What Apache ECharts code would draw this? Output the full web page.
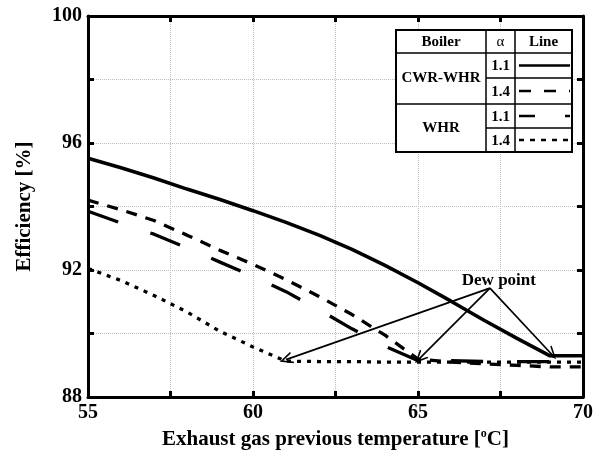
<!DOCTYPE html>
<html>
<head>
<meta charset="utf-8">
<script src="https://cdn.jsdelivr.net/npm/echarts@6/dist/echarts.min.js"></script>
<style>
html,body{margin:0;padding:0;background:#fff;}
#chart{width:598px;height:457px;}
</style>
</head>
<body>
<div id="chart"></div>
<script>
// ---- data ----
var temps = [55,56,57,58,59,60,61,62,63,64,65,66,67,68,69,70];
var cwrWhr11 = [95.52,95.22,94.9,94.55,94.22,93.87,93.5,93.1,92.65,92.15,91.6,91.02,90.42,89.85,89.3,89.3];
var cwrWhr14 = [94.2,93.9,93.56,93.1,92.62,92.18,91.7,91.17,90.6,89.95,89.2,89.1,89.05,89.0,88.95,88.95];
var whr11    = [93.85,93.48,93.13,92.7,92.25,91.8,91.32,90.75,90.15,89.6,89.15,89.15,89.12,89.12,89.12,89.12];
var whr14    = [92.05,91.67,91.2,90.68,90.07,89.58,89.13,89.12,89.12,89.1,89.1,89.1,89.1,89.1,89.1,89.1];
var xTicks = [55,60,65,70];
var yTicks = [88,92,96,100];
var dewLabel = 'Dew point';
var dewOrigin = [67.18, 91.43];
var dewTargets = [[61.0, 89.18],[65.05, 89.22],[69.05, 89.35]];
var dewTextPos = [67.45, 91.68];
var legendRows = [['CWR-WHR','1.1'],['CWR-WHR','1.4'],['WHR','1.1'],['WHR','1.4']];

var FONT = 'Liberation Serif';
function pairs(ys){ return temps.map(function(t,i){return [t, ys[i]];}); }

var chart = echarts.init(document.getElementById('chart'), null, {renderer:'canvas'});

var axisBase = {
  type:'value',
  axisLine:{show:true, onZero:false, lineStyle:{color:'#000', width:3}},
  axisTick:{show:true, inside:true, length:6, lineStyle:{color:'#000', width:3}},
};

var arrowSym = 'path://M0,14 L6,0 L12,14 L10.2,14 L6,4 L1.8,14 Z';

var option = {
  animation:false,
  backgroundColor:'#fff',
  grid:{left:88, right:15, top:16, bottom:54},
  xAxis:[
    Object.assign({}, axisBase, {
      position:'bottom', min:55, max:70, interval:2.5,
      axisLabel:{margin:6, color:'#000', fontFamily:FONT, fontWeight:'bold', fontSize:20,
        formatter:function(v){ return xTicks.indexOf(v) >= 0 ? String(v) : ''; }},
      splitLine:{show:true, lineStyle:{color:'#bdbdbd', type:'dotted', width:1}},
      name:'Exhaust gas previous temperature [{sup|o}C]',
      nameLocation:'middle', nameGap:27,
      nameTextStyle:{color:'#000', fontFamily:FONT, fontWeight:'bold', fontSize:21, lineHeight:24,
        rich:{sup:{fontFamily:FONT, fontWeight:'bold', fontSize:12, color:'#000', verticalAlign:'top', lineHeight:12, padding:[0,0,8,0]}}}
    }),
    Object.assign({}, axisBase, {
      position:'top', min:55, max:70, interval:2.5,
      axisLabel:{show:false}, splitLine:{show:false}
    })
  ],
  yAxis:[
    Object.assign({}, axisBase, {
      position:'left', min:88, max:100, interval:2,
      axisLabel:{margin:6, color:'#000', fontFamily:FONT, fontWeight:'bold', fontSize:20,
        formatter:function(v){ return yTicks.indexOf(v) >= 0 ? String(v) : ''; }},
      splitLine:{show:true, lineStyle:{color:'#bdbdbd', type:'dotted', width:1}},
      name:'Efficiency [%]', nameLocation:'middle', nameGap:53, nameRotate:90,
      nameTextStyle:{color:'#000', fontFamily:FONT, fontWeight:'bold', fontSize:21}
    }),
    Object.assign({}, axisBase, {
      position:'right', min:88, max:100, interval:2,
      axisLabel:{show:false}, splitLine:{show:false}
    })
  ],
  series:[
    {name:'CWR-WHR 1.1', type:'line', data:pairs(cwrWhr11), symbol:'none',
      lineStyle:{color:'#000', width:3.6, type:'solid'}, z:5},
    {name:'CWR-WHR 1.4', type:'line', data:pairs(cwrWhr14), symbol:'none',
      lineStyle:{color:'#000', width:3.3, type:[11,9]}, z:5},
    {name:'WHR 1.1', type:'line', data:pairs(whr11), symbol:'none',
      lineStyle:{color:'#000', width:3.3, type:[32,34]}, z:5},
    {name:'WHR 1.4', type:'line', data:pairs(whr14), symbol:'none',
      lineStyle:{color:'#000', width:3.3, type:[4,6]}, z:5,
      markLine:{
        silent:true, animation:false,
        symbol:['none', arrowSym], symbolSize:[12,13],
        lineStyle:{color:'#000', width:1.7, type:'solid'},
        label:{show:false},
        data: dewTargets.map(function(t){ return [{coord:dewOrigin}, {coord:t}]; })
      },
      markPoint:{
        silent:true, symbol:'circle', symbolSize:0,
        label:{show:true, position:'inside', color:'#000', fontFamily:FONT, fontWeight:'bold', fontSize:17,
          formatter:function(){ return dewLabel; }},
        data:[{coord:dewTextPos}]
      }
    }
  ],
  graphic:[]
};

// ---- legend table ----
(function(){
  var xs = [396, 486, 515, 572];
  var ys = [30, 53, 78, 104, 128, 152];
  var g = option.graphic;
  var ls = {stroke:'#000', lineWidth:1.5};
  g.push({type:'rect', shape:{x:xs[0], y:ys[0], width:xs[3]-xs[0], height:ys[5]-ys[0]}, style:{fill:'#fff', stroke:'#000', lineWidth:2}, z:50});
  [xs[1], xs[2]].forEach(function(x){
    g.push({type:'line', shape:{x1:x, y1:ys[0], x2:x, y2:ys[5]}, style:ls, z:51});
  });
  [ys[1], ys[3]].forEach(function(y){
    g.push({type:'line', shape:{x1:xs[0], y1:y, x2:xs[3], y2:y}, style:ls, z:51});
  });
  [ys[2], ys[4]].forEach(function(y){
    g.push({type:'line', shape:{x1:xs[1], y1:y, x2:xs[3], y2:y}, style:ls, z:51});
  });
  function txt(t, cx, cy, size, weight){
    g.push({type:'text', x:cx, y:cy, z:52, style:{text:t, fill:'#000', font:(weight||'bold')+' '+size+'px "Liberation Serif"', textAlign:'center', textVerticalAlign:'middle'}});
  }
  txt('Boiler', (xs[0]+xs[1])/2, (ys[0]+ys[1])/2+1, 15);
  txt('\u03B1', (xs[1]+xs[2])/2, (ys[0]+ys[1])/2+1, 15, 'normal');
  txt('Line', (xs[2]+xs[3])/2, (ys[0]+ys[1])/2+1, 15);
  txt(legendRows[0][0], (xs[0]+xs[1])/2, ys[2], 15);
  txt(legendRows[2][0], (xs[0]+xs[1])/2, ys[4], 15);
  var dashes = [null, [12,13], [16,30], [5,6]];
  for (var i=0;i<4;i++){
    var cy = (ys[i+1]+ys[i+2])/2;
    txt(legendRows[i][1], (xs[1]+xs[2])/2, cy+1, 15);
    var st = {stroke:'#000', lineWidth:2.5};
    if (dashes[i]) st.lineDash = dashes[i];
    g.push({type:'line', shape:{x1:xs[2]+4, y1:cy, x2:xs[3]-2, y2:cy}, style:st, z:52});
  }
})();

chart.setOption(option);
</script>
</body>
</html>
